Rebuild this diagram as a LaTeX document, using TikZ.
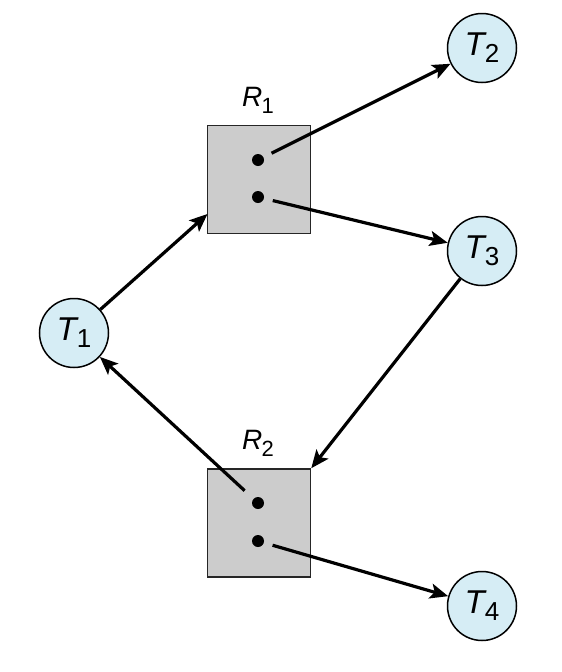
\documentclass[tikz,border=0pt]{standalone}
\usepackage{fontspec}
\setmainfont{Liberation Sans}
\usetikzlibrary{arrows.meta}
\definecolor{tfill}{HTML}{D6EDF5}
\definecolor{rfill}{HTML}{CCCCCC}
\tikzset{
  tnode/.style={circle, draw=black, line width=1.5pt, fill=tfill, minimum size=69pt, inner sep=0pt},
  rbox/.style={rectangle, draw=black!85, line width=1.5pt, fill=rfill, minimum width=103pt, minimum height=108pt, inner sep=0pt},
  dotnode/.style={circle, fill=black, minimum size=12pt, inner sep=0pt},
  arr/.style={line width=3.2pt, -{Stealth[length=18pt, width=15pt, inset=4pt]}},
}
\newcommand{\tlab}[1]{\fontsize{33}{33}\selectfont\textit{T}\kern-0.06em\raisebox{-0.22em}{\fontsize{26}{26}\selectfont #1}}
\newcommand{\rlab}[1]{\fontsize{28}{28}\selectfont\textit{R}\kern-0.02em\raisebox{-0.25em}{\fontsize{22}{22}\selectfont #1}}
\begin{document}
\begin{tikzpicture}[x=1pt,y=-1pt]
\useasboundingbox (0,0) rectangle (562,672);
% resources
\node[rbox] (R1) at (259,179.5) {};
\node[rbox] (R2) at (259,523) {};
\node (R1l) at (258,100) {\rlab{1}};
\node (R2l) at (258,443) {\rlab{2}};
\node[dotnode] (d11) at (258,160) {};
\node[dotnode] (d12) at (258,197) {};
\node[dotnode] (d21) at (258,503) {};
\node[dotnode] (d22) at (258,541) {};
% threads
\node[tnode] (T1) at (74,333) {\tlab{1}};
\node[tnode] (T2) at (482,48) {\tlab{2}};
\node[tnode] (T3) at (482,251) {\tlab{3}};
\node[tnode] (T4) at (482,606) {\tlab{4}};
\coordinate (R1in) at (207.5,214);
% edges
\draw[arr] (T1) -- (R1in);
\draw[arr, shorten <=9pt] (d11) -- (T2);
\draw[arr, shorten <=9pt] (d12) -- (T3);
\draw[arr] (T3) -- (R2.north east);
\draw[arr, shorten <=12pt] (d21) -- (T1);
\draw[arr, shorten <=9pt] (d22) -- (T4);
\end{tikzpicture}
\end{document}
